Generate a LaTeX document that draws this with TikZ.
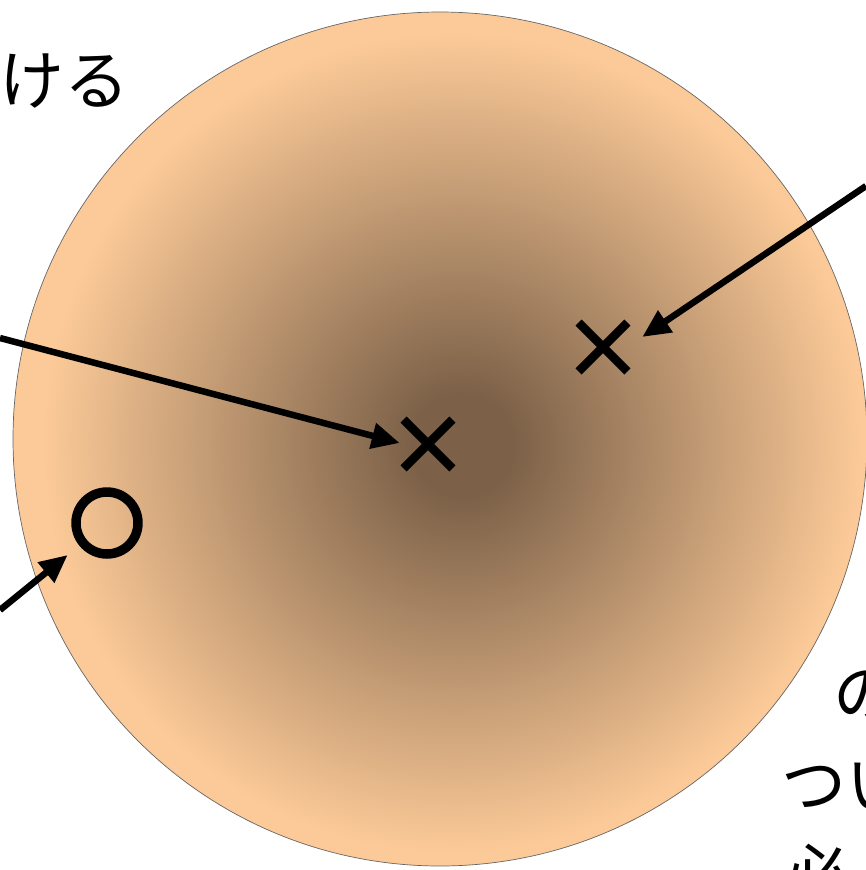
\documentclass[tikz,border=0pt]{standalone}
\usepackage{fontspec}
\newfontfamily\jpfont{Noto Sans CJK JP}
\usetikzlibrary{arrows.meta,positioning,shapes.misc}
\definecolor{glowcore}{HTML}{7C6148}
\definecolor{glowedge}{HTML}{FCCA98}
\pgfdeclareradialshading{glow}{\pgfpoint{1.4bp}{-0.4bp}}{color(0bp)=(glowcore); color(3bp)=(glowcore); color(24bp)=(glowedge); color(50bp)=(glowedge)}

\begin{document}
\begin{tikzpicture}[x=0.02cm, y=-0.02cm,
  pointer/.style={-{Triangle[length=0.56cm, width=0.5cm]}, line width=3.7pt},
  crossmark/.style={cross out, draw, line width=5pt, minimum size=0.8cm, inner sep=0pt},
  ringmark/.style={circle, draw, line width=5.4pt, minimum size=1.24cm, inner sep=0pt},
  caption/.style={font=\jpfont\fontsize{37}{44}\selectfont, inner sep=0pt}]
  \useasboundingbox (0,0) rectangle (866,870);
  \clip (0,0) rectangle (866,870);

  % Disc
  \shade[shading=glow, draw=black!60, line width=0.4pt] (440,439) circle (427);

  % Marks
  \node[crossmark] (core) at (428,444) {};
  \node[crossmark] (side) at (603,347) {};
  \node[ringmark] (ring) at (107,523) {};

  % Free ends at the border
  \coordinate (edgeW) at (0,338);
  \coordinate (edgeE) at (866,186);
  \coordinate (edgeSW) at (0,610);

  % Pointers
  \draw[pointer, shorten >=0.08cm] (edgeW) -- (core.west);
  \draw[pointer, shorten >=0.36cm] (edgeE) -- (side.east);
  \draw[pointer, shorten >=0.3cm] (edgeSW) -- (ring);

  % Captions
  \node[caption, anchor=base east] (lineA) at (130,104) {ける};
  \node[caption, anchor=base west] (lineB) at (833,717) {の};
  \node[caption, anchor=base west] (lineC) at (781,808) {つい};
  \node[caption, anchor=base west] (lineD) at (785,898) {必};
\end{tikzpicture}
\end{document}
